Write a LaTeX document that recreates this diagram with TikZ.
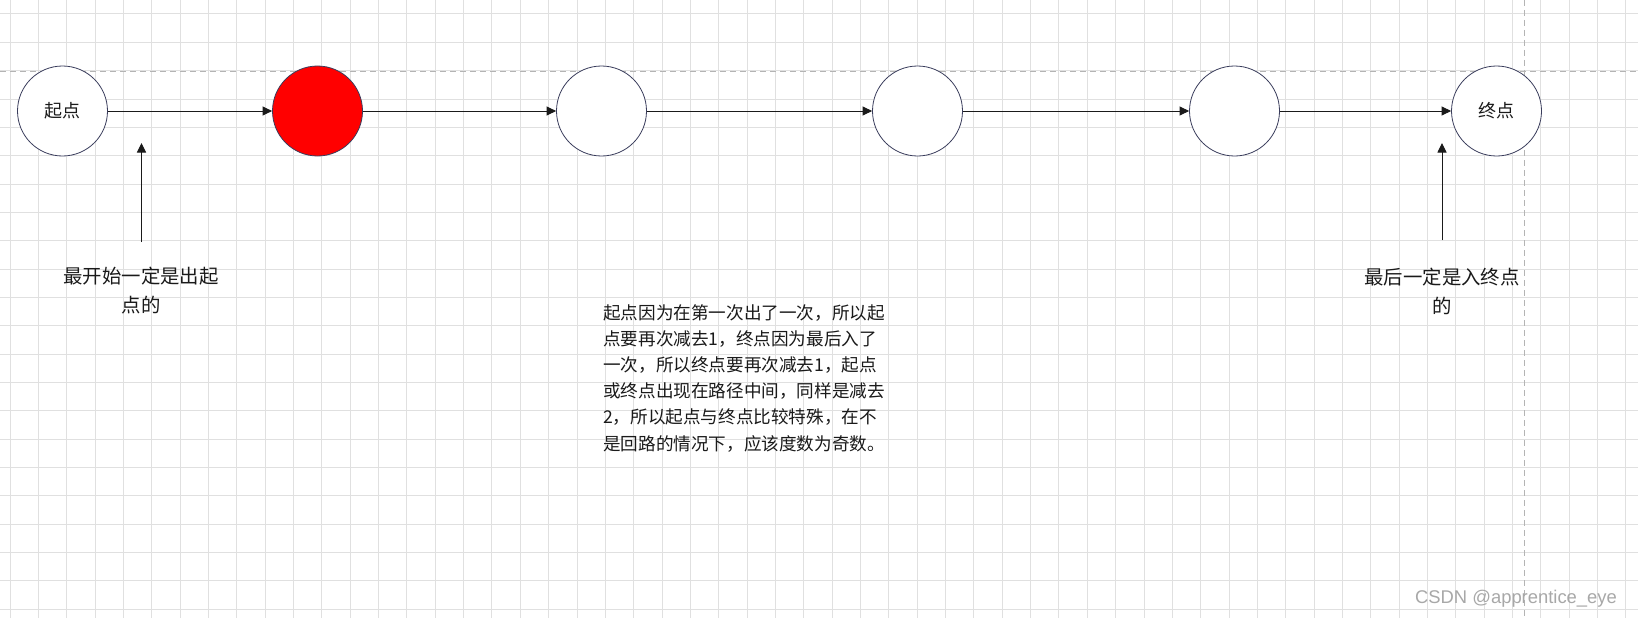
\documentclass[tikz,border=0pt]{standalone}
\usepackage{fontspec}
\newfontfamily\cjk{Noto Sans CJK SC}
\newfontfamily\wmfont{Liberation Sans}
\usetikzlibrary{arrows.meta}
\definecolor{gridc}{HTML}{E0E0E0}
\definecolor{dashc}{HTML}{B4B4B4}
\definecolor{ringc}{HTML}{3A3D5C}
\definecolor{inkc}{HTML}{1A1A1A}
\definecolor{wmc}{HTML}{A8A8A8}
\tikzset{
  vertex/.style={circle, draw=ringc, line width=0.8pt, fill=white, minimum size=90pt, inner sep=0pt,
    font=\cjk\fontsize{18}{22}\selectfont, text=inkc},
  link/.style={draw=inkc, line width=1pt, -{Triangle[length=9.5pt,width=9pt]}},
  note/.style={font=\cjk\fontsize{19.4}{29}\selectfont, text=inkc, align=center, inner sep=0pt},
  bignote/.style={font=\cjk\fontsize{17.6}{26.2}\selectfont, text=inkc, align=left, inner sep=0pt, anchor=north west},
  gridline/.style={draw=gridc, line width=1pt},
  guide/.style={draw=dashc, line width=0.9pt, dash pattern=on 6pt off 4pt}
}
\begin{document}
\begin{tikzpicture}[x=1pt,y=-1pt]
\useasboundingbox (0,0) rectangle (1638,618);
\fill[white] (0,0) rectangle (1638,618);
\foreach \i in {0,...,57} \draw[gridline] ({10+28.35*\i},0) -- ({10+28.35*\i},618);
\foreach \j in {0,...,21} \draw[gridline] (0,{14+28.34*\j}) -- (1638,{14+28.34*\j});
\draw[guide] (0,71) -- (1638,71);
\draw[guide] (1524,0) -- (1524,618);

\node[vertex] (s) at (62.5,111) {起点};
\node[vertex, fill=red] (a) at (317.5,111) {};
\node[vertex] (b) at (601.5,111) {};
\node[vertex] (c) at (917.5,111) {};
\node[vertex] (d) at (1234.5,111) {};
\node[vertex] (t) at (1496.5,111) {终点};

\draw[link] (s) -- (a);
\draw[link] (a) -- (b);
\draw[link] (b) -- (c);
\draw[link] (c) -- (d);
\draw[link] (d) -- (t);

\coordinate (l0) at (141.5,242);
\coordinate (l1) at (141.5,143);
\coordinate (r0) at (1442,240);
\coordinate (r1) at (1442,143);
\draw[link] (l0) -- (l1);
\draw[link] (r0) -- (r1);

\node[note] (ln) at (141,291) {最开始一定是出起\\点的};
\node[note] (rn) at (1442,291) {最后一定是入终点\\的};

\node[bignote] (mn) at (603,304) {起点因为在第一次出了一次，所以起\\点要再次减去1，终点因为最后入了\\一次，所以终点要再次减去1，起点\\或终点出现在路径中间，同样是减去\\2，所以起点与终点比较特殊，在不\\是回路的情况下，应该度数为奇数。};

\node[font=\wmfont\fontsize{18.4}{20}\selectfont, text=wmc, inner sep=0pt] (wm) at (1516,599) {CSDN @apprentice\_eye};
\end{tikzpicture}
\end{document}
